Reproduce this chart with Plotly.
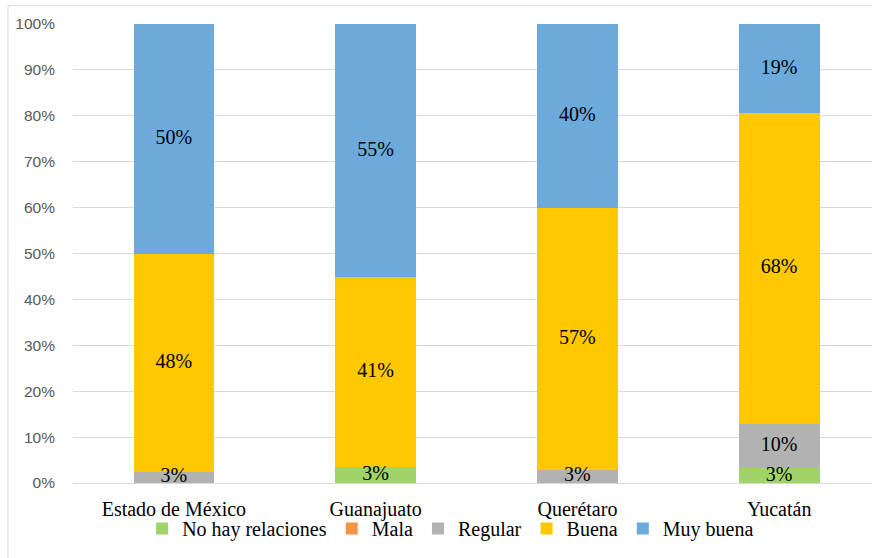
import plotly.graph_objects as go

# Share of responses (%) per state, stacked to 100%
states = ["Estado de México", "Guanajuato", "Querétaro", "Yucatán"]
no_hay_relaciones = [None, 3.4, None, 3.2]
mala = [None, None, None, None]
regular = [2.5, None, 2.9, 9.7]
buena = [47.5, 41.4, 57.1, 67.7]
muy_buena = [50.0, 55.2, 40.0, 19.4]
y_ticks = list(range(0, 101, 10))
y_tick_text = [f"{t}%" for t in y_ticks]

series = [
    ("No hay relaciones", no_hay_relaciones, "#A0D468"),
    ("Mala", mala, "#F39546"),
    ("Regular", regular, "#B2B2B2"),
    ("Buena", buena, "#FFC800"),
    ("Muy buena", muy_buena, "#6CAADC"),
]

SERIF = "Times New Roman, Liberation Serif, serif"
SANS = "Liberation Sans, Arial, sans-serif"


def pct_label(v):
    return f"{int(v + 0.5)}%"


fig = go.Figure()
for name, vals, color in series:
    fig.add_trace(go.Bar(
        name=name,
        x=states,
        y=vals,
        marker=dict(color=color, line=dict(width=0)),
        width=0.4,
        hoverinfo="skip",
    ))

# Segment value labels, placed at the middle of each stacked segment and
# drawn after all bars so small segments' labels stay on top.
lab_x, lab_y, lab_t = [], [], []
for i, state in enumerate(states):
    base = 0.0
    for _, vals, _ in series:
        v = vals[i]
        if v is None:
            continue
        lab_x.append(state)
        lab_y.append(base + v / 2)
        lab_t.append(pct_label(v))
        base += v

fig.add_trace(go.Scatter(
    x=lab_x, y=lab_y, text=lab_t,
    mode="text",
    textposition="middle center",
    textfont=dict(family=SERIF, size=20, color="#000000"),
    showlegend=False,
    hoverinfo="skip",
))

fig.update_layout(
    barmode="stack",
    width=872,
    height=558,
    margin=dict(l=73, r=0, t=24, b=75, autoexpand=False),
    paper_bgcolor="white",
    plot_bgcolor="white",
    font=dict(family=SERIF, color="#000000"),
    showlegend=True,
    legend=dict(
        orientation="h",
        xref="container", yref="container",
        x=0.163, y=0.053,
        xanchor="left", yanchor="middle",
        font=dict(family=SERIF, size=20, color="#000000"),
        bgcolor="rgba(0,0,0,0)",
        traceorder="normal",
    ),
    xaxis=dict(
        range=[-0.5, 3.46],
        showgrid=False,
        showline=False,
        zeroline=False,
        ticks="",
        ticklabelstandoff=12,
        tickfont=dict(family=SERIF, size=20, color="#000000"),
    ),
    yaxis=dict(
        range=[0, 100],
        tickmode="array",
        tickvals=y_ticks,
        ticktext=y_tick_text,
        showgrid=True,
        gridcolor="#D9D9D9",
        gridwidth=1,
        zeroline=True,
        zerolinecolor="#D9D9D9",
        zerolinewidth=1,
        showline=False,
        ticks="",
        ticklabelstandoff=17,
        tickfont=dict(family=SANS, size=15.5, color="#595959"),
    ),
    shapes=[dict(
        type="rect", xref="paper", yref="paper",
        x0=-0.0814, x1=1.02, y0=-0.2, y1=1.04,
        line=dict(color="#D9D9D9", width=1),
        fillcolor="rgba(0,0,0,0)",
        layer="below",
    )],
)

fig.write_html("out.html")
